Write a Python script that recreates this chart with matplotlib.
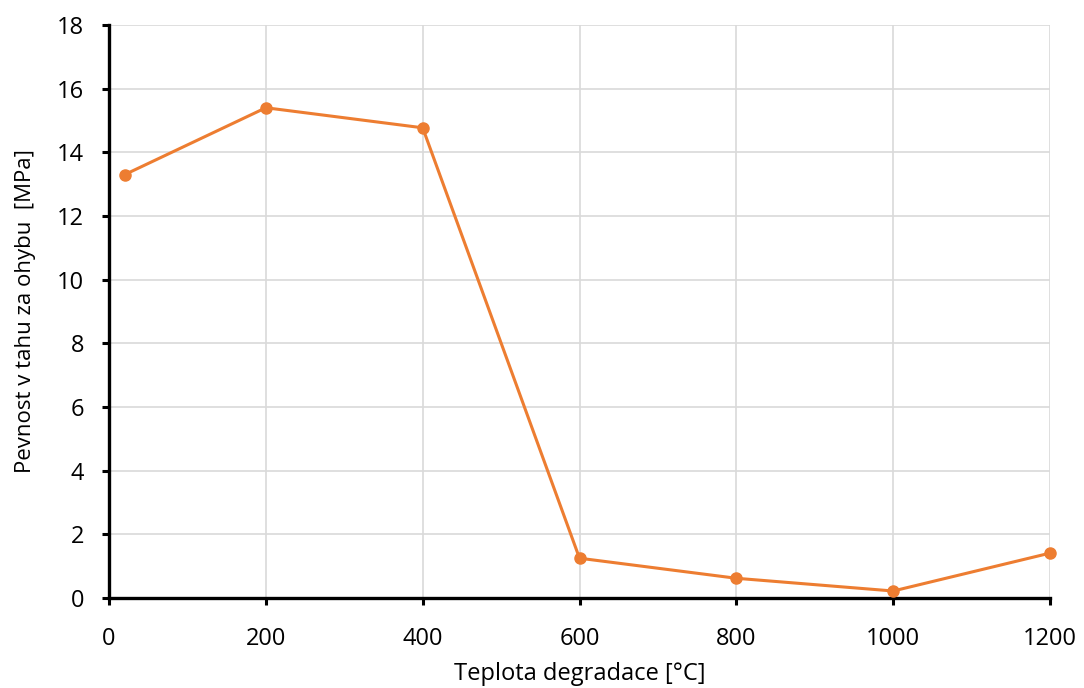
import matplotlib
matplotlib.use("Agg")
import matplotlib.pyplot as plt

plt.rcParams['font.family'] = ['Open Sans', 'DejaVu Sans']

temperature = [20, 200, 400, 600, 800, 1000, 1200]
strength = [13.3, 15.4, 14.77, 1.25, 0.62, 0.22, 1.41]

x_ticks = [0, 200, 400, 600, 800, 1000, 1200]
y_ticks = [0, 2, 4, 6, 8, 10, 12, 14, 16, 18]

fig = plt.figure(figsize=(10.84, 6.88), dpi=100)
ax = fig.add_axes([0.1006, 0.1308, 0.8680, 0.8329])

ax.plot(temperature, strength, color='#ED7D31', linewidth=2.2,
        marker='o', markersize=8, zorder=3, clip_on=False)

ax.set_xlim(0, 1200)
ax.set_ylim(0, 18)
ax.set_xticks(x_ticks)
ax.set_yticks(y_ticks)

ax.grid(True, color='#D9D9D9', linewidth=1.2, zorder=0)
ax.set_axisbelow(True)

for side in ('top', 'right'):
    ax.spines[side].set_visible(False)
for side in ('left', 'bottom'):
    ax.spines[side].set_linewidth(2.4)
    ax.spines[side].set_color('black')

ax.tick_params(axis='both', which='major', direction='out', length=5,
               width=2.2, labelsize=17, colors='black')
ax.tick_params(axis='x', pad=16)
ax.tick_params(axis='y', pad=13)

ax.set_xlabel('Teplota degradace [°C]', fontsize=17, labelpad=8)
ax.set_ylabel('Pevnost v tahu za ohybu  [MPa]', fontsize=16, labelpad=15)

fig.savefig('out.png', dpi=100)
